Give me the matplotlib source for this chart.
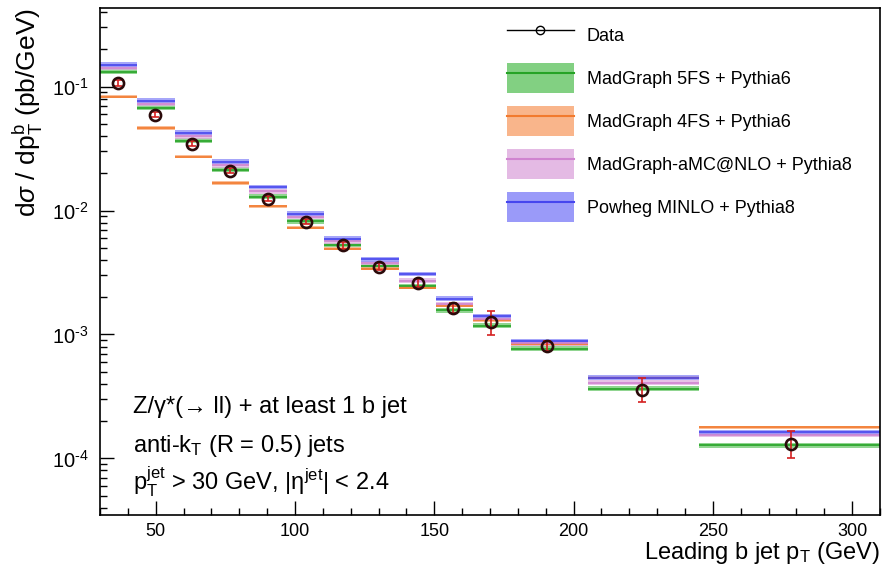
import numpy as np
import matplotlib
matplotlib.use("Agg")
import matplotlib.pyplot as plt
from matplotlib.patches import Patch
from matplotlib.lines import Line2D
from matplotlib.ticker import LogLocator, MultipleLocator, NullFormatter, FuncFormatter

plt.rcParams["font.family"] = ["Liberation Sans", "DejaVu Sans"]
plt.rcParams["mathtext.fontset"] = "custom"
plt.rcParams["mathtext.rm"] = "Liberation Sans"
plt.rcParams["mathtext.it"] = "Liberation Sans:italic"
plt.rcParams["mathtext.bf"] = "Liberation Sans:bold"

# Leading b-jet pT binning (GeV)
bin_edges = [30, 43.4, 56.8, 70.2, 83.6, 97, 110.4, 123.8, 137.2, 150.6, 164, 177.4, 205, 245, 310]

# Measured cross section (pb/GeV) and relative uncertainties
data_x = [36.5, 49.8, 63.2, 76.8, 90.2, 103.9, 117.2, 130.2, 144.2, 156.8, 170.5, 190.4, 224.6, 278]
data_y = [0.107, 0.0594, 0.0347, 0.0210, 0.0125, 0.00815, 0.00525, 0.00353, 0.00261, 0.00164,
          0.00126, 0.000814, 0.000360, 0.000132]
data_up = [0.05, 0.05, 0.05, 0.05, 0.05, 0.05, 0.06, 0.06, 0.07, 0.09, 0.22, 0.09, 0.23, 0.26]
data_dn = [0.05, 0.05, 0.05, 0.05, 0.05, 0.05, 0.06, 0.06, 0.07, 0.09, 0.22, 0.09, 0.20, 0.23]

# Predictions (pb/GeV)
mg5fs = [0.1315, 0.0673, 0.0367, 0.0214, 0.0129, 0.0082, 0.00528, 0.00356, 0.00245, 0.00157,
         0.00118, 0.00077, 0.000365, 0.000128]
mg4fs = [0.0826, 0.0464, 0.0271, 0.0167, 0.01084, 0.00725, 0.00491, 0.0034, 0.00238, 0.00171,
         0.0013, 0.00084, 0.000448, 0.000179]
amcnlo = [0.1416, 0.0725, 0.0398, 0.0231, 0.0143, 0.0089, 0.00565, 0.00378, 0.00272, 0.00175,
          0.00134, 0.00085, 0.000408, 0.000155]
powheg = [0.150, 0.0771, 0.0423, 0.0247, 0.0155, 0.0094, 0.00594, 0.00403, 0.00308, 0.00195,
          0.00141, 0.000883, 0.000448, 0.000163]

# Relative half-width of each prediction's uncertainty band
band_rel = {"mg5fs": 0.045, "mg4fs": 0.03, "amcnlo": 0.045, "powheg": 0.045}

labels = ["MadGraph 5FS + Pythia6", "MadGraph 4FS + Pythia6",
          "MadGraph-aMC@NLO + Pythia8", "Powheg MINLO + Pythia8"]

styles = [
    (mg5fs, band_rel["mg5fs"], "#6cc86c", "#26a326"),
    (mg4fs, band_rel["mg4fs"], "#f9a877", "#f27a2e"),
    (amcnlo, band_rel["amcnlo"], "#e0aee0", "#d084d0"),
    (powheg, band_rel["powheg"], "#8888f8", "#4646ee"),
]

fig = plt.figure(figsize=(8.83, 5.73), dpi=100)
ax = fig.add_axes([100 / 883, 1 - 515 / 573, 780 / 883, 507 / 573])

edges = np.array(bin_edges)
lo_e, hi_e = edges[:-1], edges[1:]
for vals, rel, fill_c, line_c in styles:
    v = np.array(vals)
    ax.stairs(v * (1 + rel), edges, baseline=v * (1 - rel), fill=True,
              color=fill_c, alpha=0.75, lw=0)
    ax.hlines(v, lo_e, hi_e, colors=line_c, lw=1.2)

dy = np.array(data_y)
yerr = [dy * np.array(data_dn), dy * np.array(data_up)]
ax.errorbar(data_x, dy, yerr=yerr, fmt="none", ecolor="#d42020", elinewidth=1.2,
            capsize=3, capthick=1.2, zorder=4)
ax.plot(data_x, dy, "o", ms=8, mfc="none", mec="#2a0a0a", mew=1.9, zorder=5)

ax.set_yscale("log")
ax.set_xlim(30, 310)
ax.set_ylim(3.5e-5, 0.43)


def pow10_label(val, pos):
    n = int(round(np.log10(val)))
    return "10$^{\\mathregular{\u2010%d}}$" % abs(n) if n < 0 else "10$^{\\mathregular{%d}}$" % n


ax.xaxis.set_major_locator(MultipleLocator(50))
ax.xaxis.set_minor_locator(MultipleLocator(10))
ax.yaxis.set_major_locator(LogLocator(base=10, numticks=10))
ax.yaxis.set_major_formatter(FuncFormatter(pow10_label))
ax.yaxis.set_minor_locator(LogLocator(base=10, subs=np.arange(2, 10), numticks=10))
ax.yaxis.set_minor_formatter(NullFormatter())
ax.tick_params(which="both", direction="in", top=False, right=False)
ax.tick_params(axis="x", labelsize=13, pad=6)
ax.tick_params(axis="y", labelsize=14.5, pad=8)
ax.tick_params(which="major", length=10, width=1)
ax.tick_params(which="minor", length=5, width=1)
for s in ax.spines.values():
    s.set_linewidth(1.2)

ax.set_xlabel(r"Leading b jet p$_\mathregular{T}$ (GeV)", fontsize=17, loc="right", labelpad=0)
ax.set_ylabel(r"d$\sigma$ / dp$_\mathregular{T}^\mathregular{b}$ (pb/GeV)", fontsize=19,
              loc="top", labelpad=5)

tx = (133 - 100) / 780
ax.text(tx, (515 - 413) / 507, "Z/γ*(→ ll) + at least 1 b jet",
        transform=ax.transAxes, fontsize=17, va="baseline")
ax.text(tx, (515 - 452) / 507, r"anti-k$_\mathregular{T}$ (R = 0.5) jets",
        transform=ax.transAxes, fontsize=17, va="baseline")
ax.text(tx, (515 - 490) / 507,
        r"p$_\mathregular{T}^\mathregular{jet}$ > 30 GeV, |η$^\mathregular{jet}$| < 2.4",
        transform=ax.transAxes, fontsize=17, va="baseline")

handles = [Line2D([], [], color="black", lw=1, marker="o", ms=6, mfc="none", mec="black")]
for vals, rel, fill_c, line_c in styles:
    handles.append((Patch(facecolor=fill_c, alpha=0.85, lw=0), Line2D([], [], color=line_c, lw=1.5)))
leg = ax.legend(handles, ["Data"] + labels, loc="upper left",
                bbox_to_anchor=((507 - 100) / 780, (515 - 20) / 507),
                frameon=False, fontsize=13, handlelength=3.7, handleheight=2.18,
                labelspacing=0.72, handletextpad=0.72, borderaxespad=0, borderpad=0)

fig.savefig("out.png", dpi=100)
